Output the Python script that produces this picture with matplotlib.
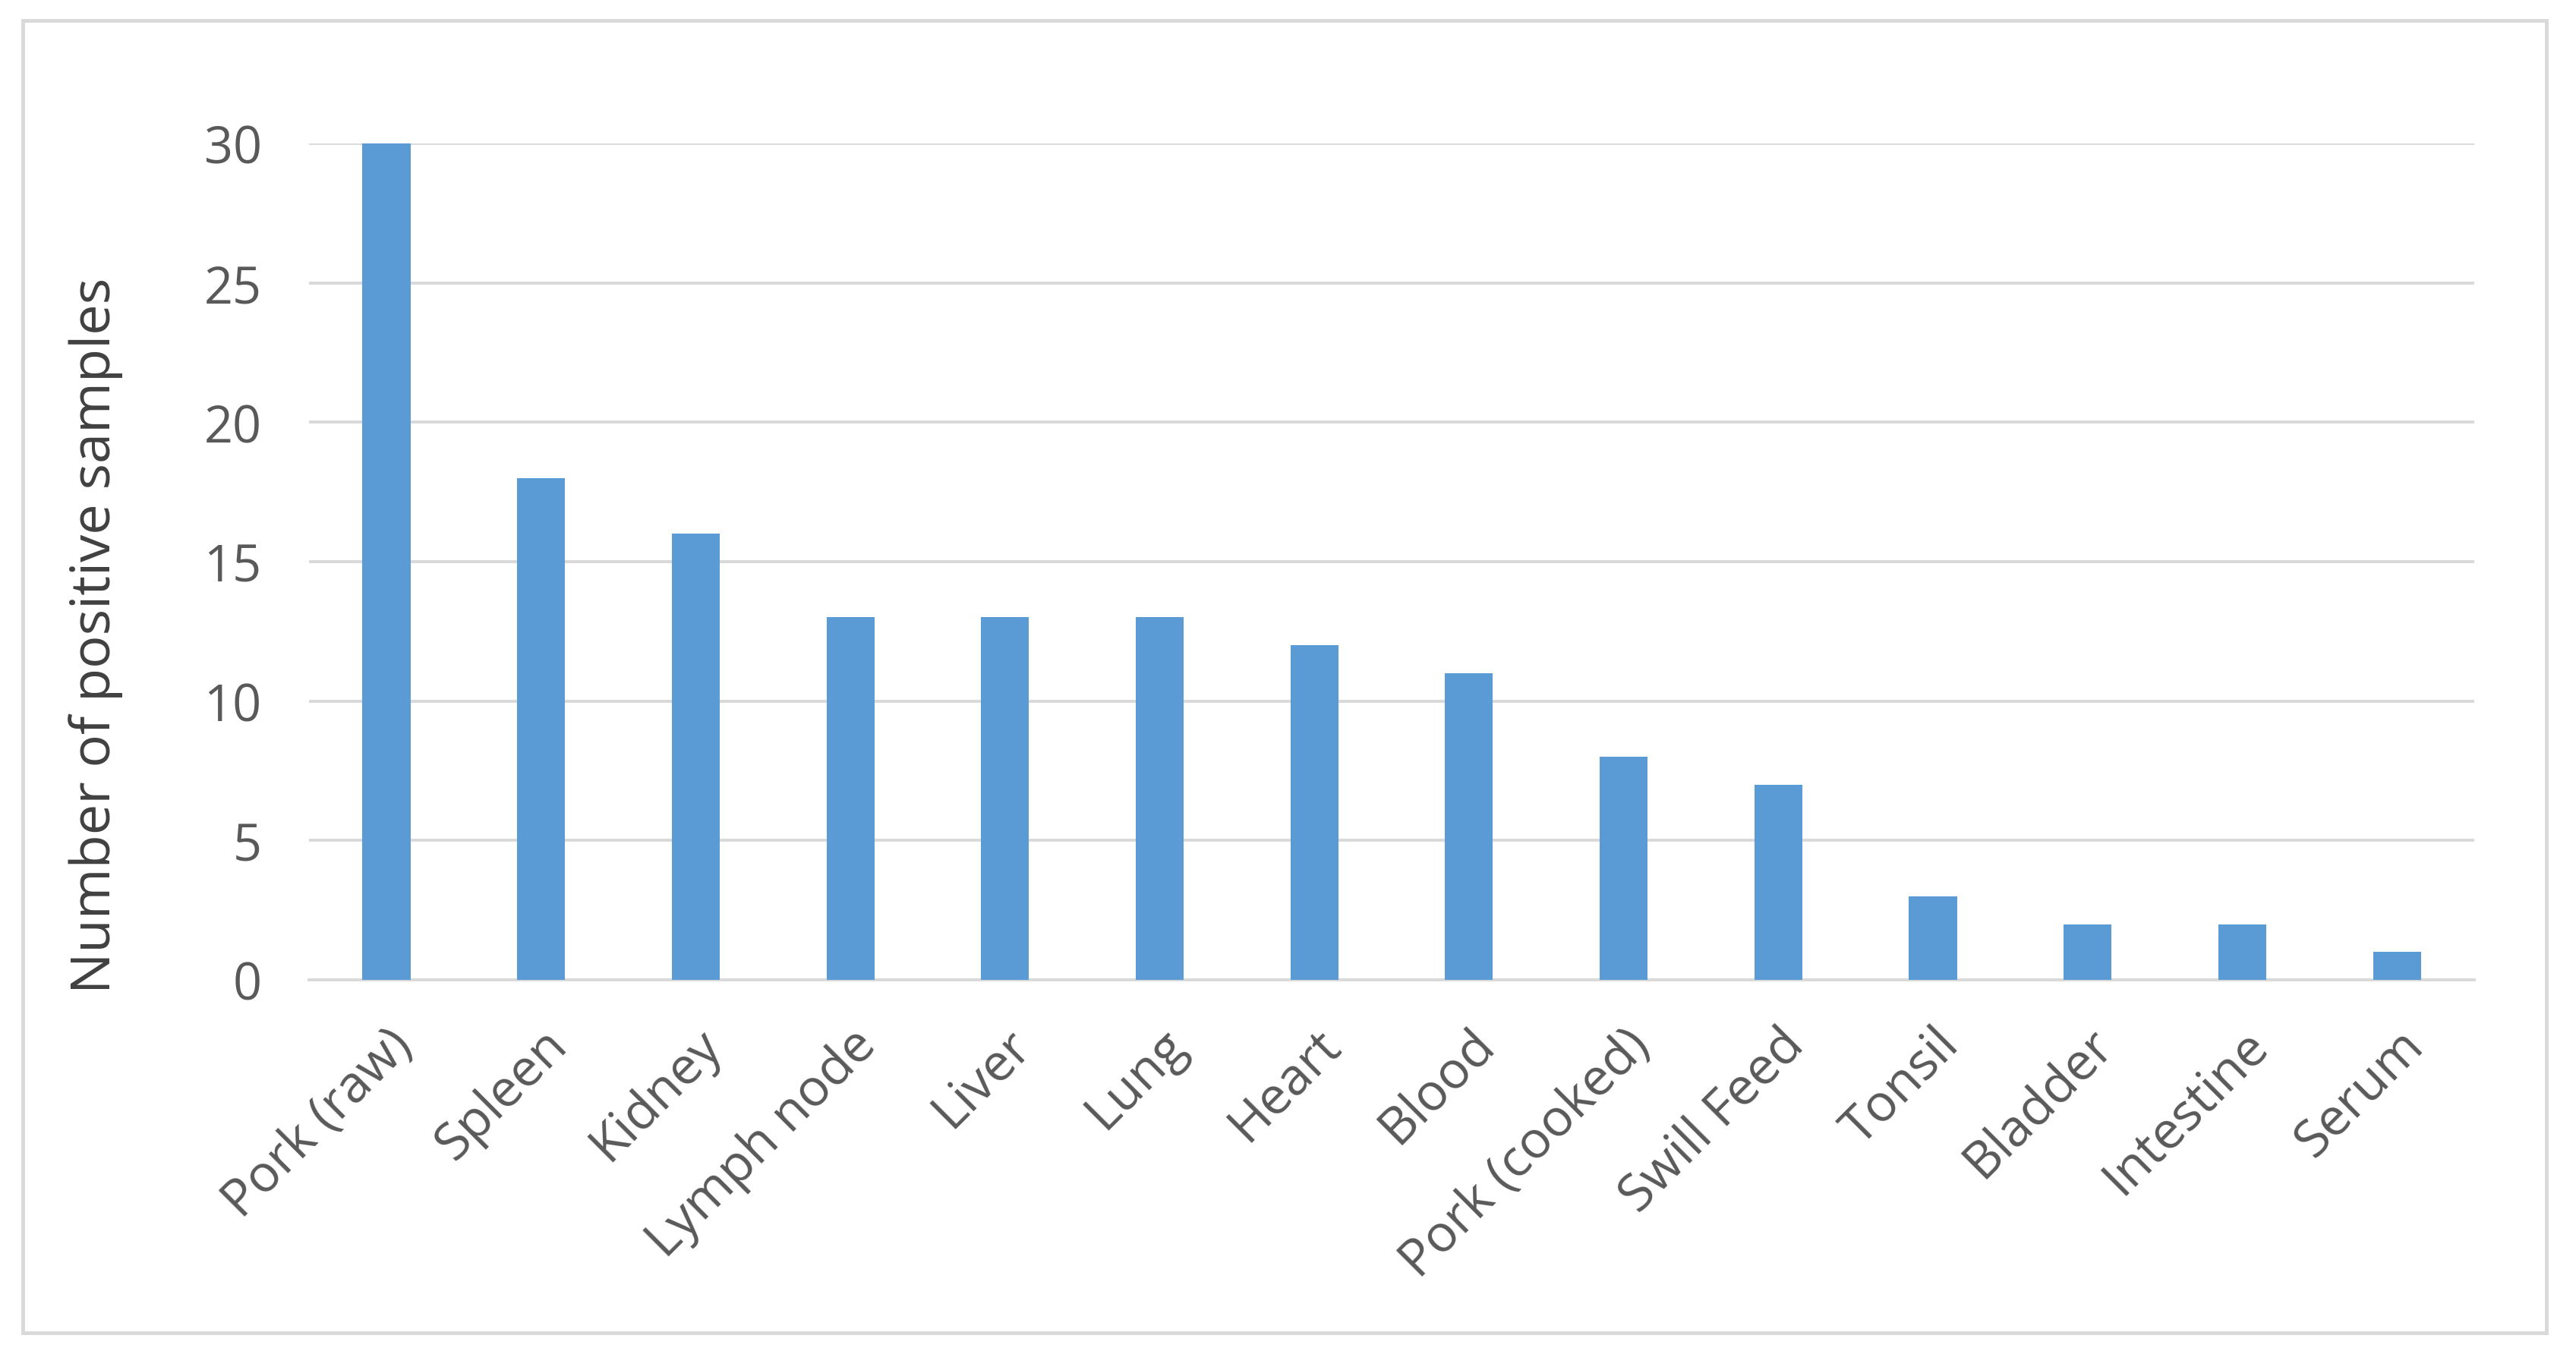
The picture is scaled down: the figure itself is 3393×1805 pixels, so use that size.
import matplotlib.pyplot as plt
from matplotlib.patches import Rectangle
import numpy as np

plt.rcParams['font.family'] = ['Open Sans', 'DejaVu Sans']

samples = ['Pork (raw)', 'Spleen', 'Kidney', 'Lymph node', 'Liver', 'Lung', 'Heart',
           'Blood', 'Pork (cooked)', 'Swill Feed', 'Tonsil', 'Bladder', 'Intestine', 'Serum']
positives = [30, 18, 16, 13, 13, 13, 12, 11, 8, 7, 3, 2, 2, 1]
yticks = [0, 5, 10, 15, 20, 25, 30]

grey = '#595959'
fig = plt.figure(figsize=(33.93, 18.06), dpi=100)

# light outer frame like the excel chart area
fig.patches.append(Rectangle((0.0088, 0.0271), 0.9797, 0.9574, transform=fig.transFigure,
                             fill=False, edgecolor='#d9d9d9', linewidth=3.5))

ax = fig.add_axes([0.12, 0.2846, 0.8405, 0.6102])
x = np.arange(len(samples))
ax.bar(x, positives, width=0.31, color='#5B9BD5', zorder=3)

ax.set_xlim(-0.5, len(samples) - 0.5)
ax.set_ylim(0, 30)
ax.set_yticks(yticks)
ax.yaxis.grid(True, color='#d9d9d9', linewidth=2.8, zorder=0)
ax.set_axisbelow(True)
for s in ['top', 'right', 'left']:
    ax.spines[s].set_visible(False)
ax.spines['bottom'].set_color('#d9d9d9')
ax.spines['bottom'].set_linewidth(2.8)

ax.tick_params(axis='y', length=0, pad=45, labelsize=48, labelcolor=grey)
ax.tick_params(axis='x', length=0, pad=37, labelsize=49, labelcolor=grey)
ax.set_xticks(x)
ax.set_xticklabels(samples, rotation=45, ha='right', rotation_mode='anchor')

ax.set_ylabel('Number of positive samples', fontsize=52, color='#404040')
ax.yaxis.set_label_coords(-0.086, 0.4126)

fig.savefig('out.png', dpi=100)
